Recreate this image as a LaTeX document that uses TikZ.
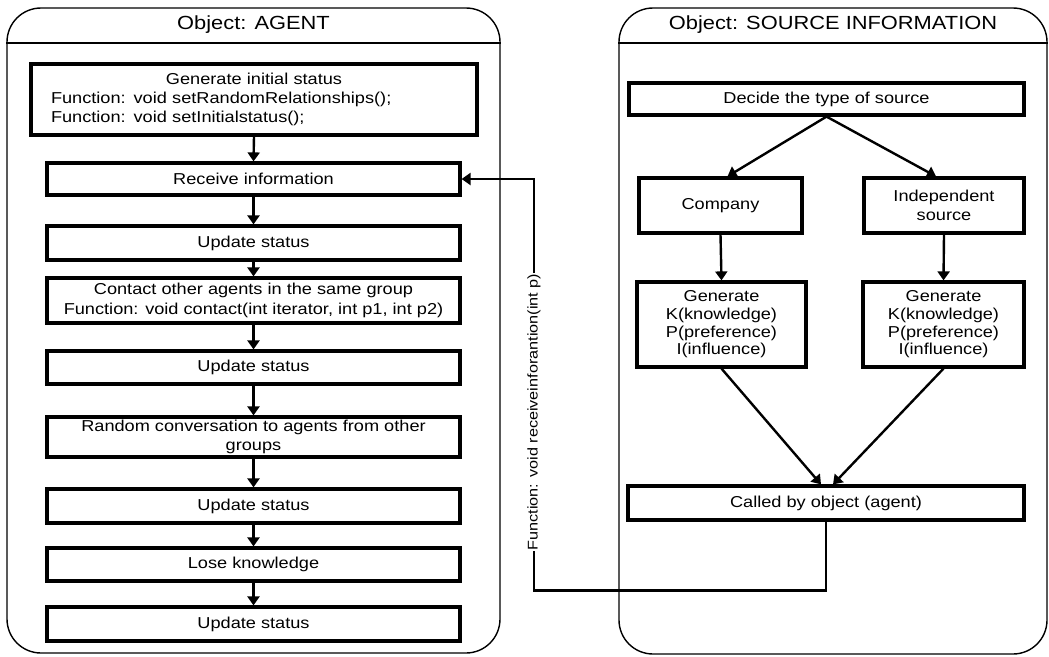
\documentclass[tikz,border=0pt]{standalone}
\usepackage{fontspec}
\setmainfont{Liberation Sans}[FakeStretch=1.15]
\usetikzlibrary{arrows.meta,calc}
\begin{document}
\begin{tikzpicture}[x=1pt,y=-1pt,
  objframe/.style={draw, line width=1.4pt, rounded corners=34pt, inner sep=0pt},
  objtitle/.style={font=\fontsize{19}{22}\selectfont},
  stepbox/.style={draw, line width=3.2pt, inner sep=0pt, align=center,
                  font=\fontsize{15.8}{19}\selectfont},
  flow/.style={line width=2.4pt, -{Triangle[width=12pt,length=9pt]}},
  link/.style={line width=2.4pt},
  sep/.style={line width=1.4pt}
]
\useasboundingbox (0,0) rectangle (1049,656);

% ---------- Object: AGENT ----------
\node[objframe, minimum width=493pt, minimum height=645pt] (agent) at (253.5,330.5) {};
\coordinate (hdrA) at (0,43);
\draw[sep] (agent.west |- hdrA) -- (agent.east |- hdrA);
\node[objtitle] (agentttl) at (253.5,25) {Object: AGENT};

\node[stepbox, minimum width=446pt, minimum height=71pt, text width=406pt, inner xsep=20pt, align=left]
  (gen) at (254,99.5)
  {{\centering Generate initial status\par}Function: void setRandomRelationships();\\Function: void setInitialstatus();};
\node[stepbox, minimum width=413pt, minimum height=32pt] (recv) at (253.5,179) {Receive information};
\node[stepbox, minimum width=413pt, minimum height=34pt] (upd1) at (253.5,243) {Update status};
\node[stepbox, minimum width=413pt, minimum height=45pt, font=\fontsize{15.8}{20}\selectfont] (contact) at (253.5,300.5)
  {Contact other agents in the same group\\Function: void contact(int iterator, int p1, int p2)};
\node[stepbox, minimum width=413pt, minimum height=33pt] (upd2) at (253.5,367.5) {Update status};
\node[stepbox, minimum width=413pt, minimum height=40pt, font=\fontsize{15.8}{18.5}\selectfont] (random) at (253.5,437)
  {Random conversation to agents from other\\groups};
\node[stepbox, minimum width=413pt, minimum height=34pt] (upd3) at (253.5,506) {Update status};
\node[stepbox, minimum width=413pt, minimum height=33pt] (lose) at (253.5,564.5) {Lose knowledge};
\node[stepbox, minimum width=413pt, minimum height=34pt] (upd4) at (253.5,624) {Update status};

\draw[flow] (gen.south) -- (recv.north);
\draw[flow] (recv.south) -- (upd1.north);
\draw[flow] (upd1.south) -- (contact.north);
\draw[flow] (contact.south) -- (upd2.north);
\draw[flow] (upd2.south) -- (random.north);
\draw[flow] (random.south) -- (upd3.north);
\draw[flow] (upd3.south) -- (lose.north);
\draw[flow] (lose.south) -- (upd4.north);

% ---------- Object: SOURCE INFORMATION ----------
\node[objframe, minimum width=428pt, minimum height=646pt] (source) at (833,331) {};
\draw[sep] (source.west |- hdrA) -- (source.east |- hdrA);
\node[objtitle] (sourcettl) at (833,25) {Object: SOURCE INFORMATION};

\node[stepbox, minimum width=395pt, minimum height=32pt] (decide) at (826.5,99) {Decide the type of source};
\node[stepbox, minimum width=163pt, minimum height=55pt] (company) at (720.5,205.5) {Company};
\node[stepbox, minimum width=160pt, minimum height=55pt] (indep) at (944,205.5) {Independent\\source};
\node[stepbox, minimum width=169pt, minimum height=85pt, font=\fontsize{15.8}{17.6}\selectfont] (genL) at (721.5,324.5)
  {Generate\\K(knowledge)\\P(preference)\\I(influence)};
\node[stepbox, minimum width=161pt, minimum height=85pt, font=\fontsize{15.8}{17.6}\selectfont] (genR) at (943.5,324.5)
  {Generate\\K(knowledge)\\P(preference)\\I(influence)};
\node[stepbox, minimum width=396pt, minimum height=34pt] (called) at (826,503) {Called by object (agent)};

\draw[flow] (decide.south) -- ($(company.north)+(7,0)$);
\draw[flow] (decide.south) -- ($(indep.north)+(-8,0)$);
\draw[flow] (company.south) -- (genL.north);
\draw[flow] (indep.south) -- (genR.north);
\draw[flow] (genL.south) -- ($(called.north)+(-5,0)$);
\draw[flow] (genR.south) -- ($(called.north)+(7,0)$);

% ---------- call back into the agent ----------
\node[rotate=90, inner sep=0.5pt, font=\fontsize{14.1}{16}\selectfont] (lbl) at (534,412)
  {Function: void receiveinforantion(int p)};
\draw[link] (called.south) -- ++(0,69) -| (lbl.west);
\draw[flow] (lbl.east) |- (recv.east);
\end{tikzpicture}
\end{document}
